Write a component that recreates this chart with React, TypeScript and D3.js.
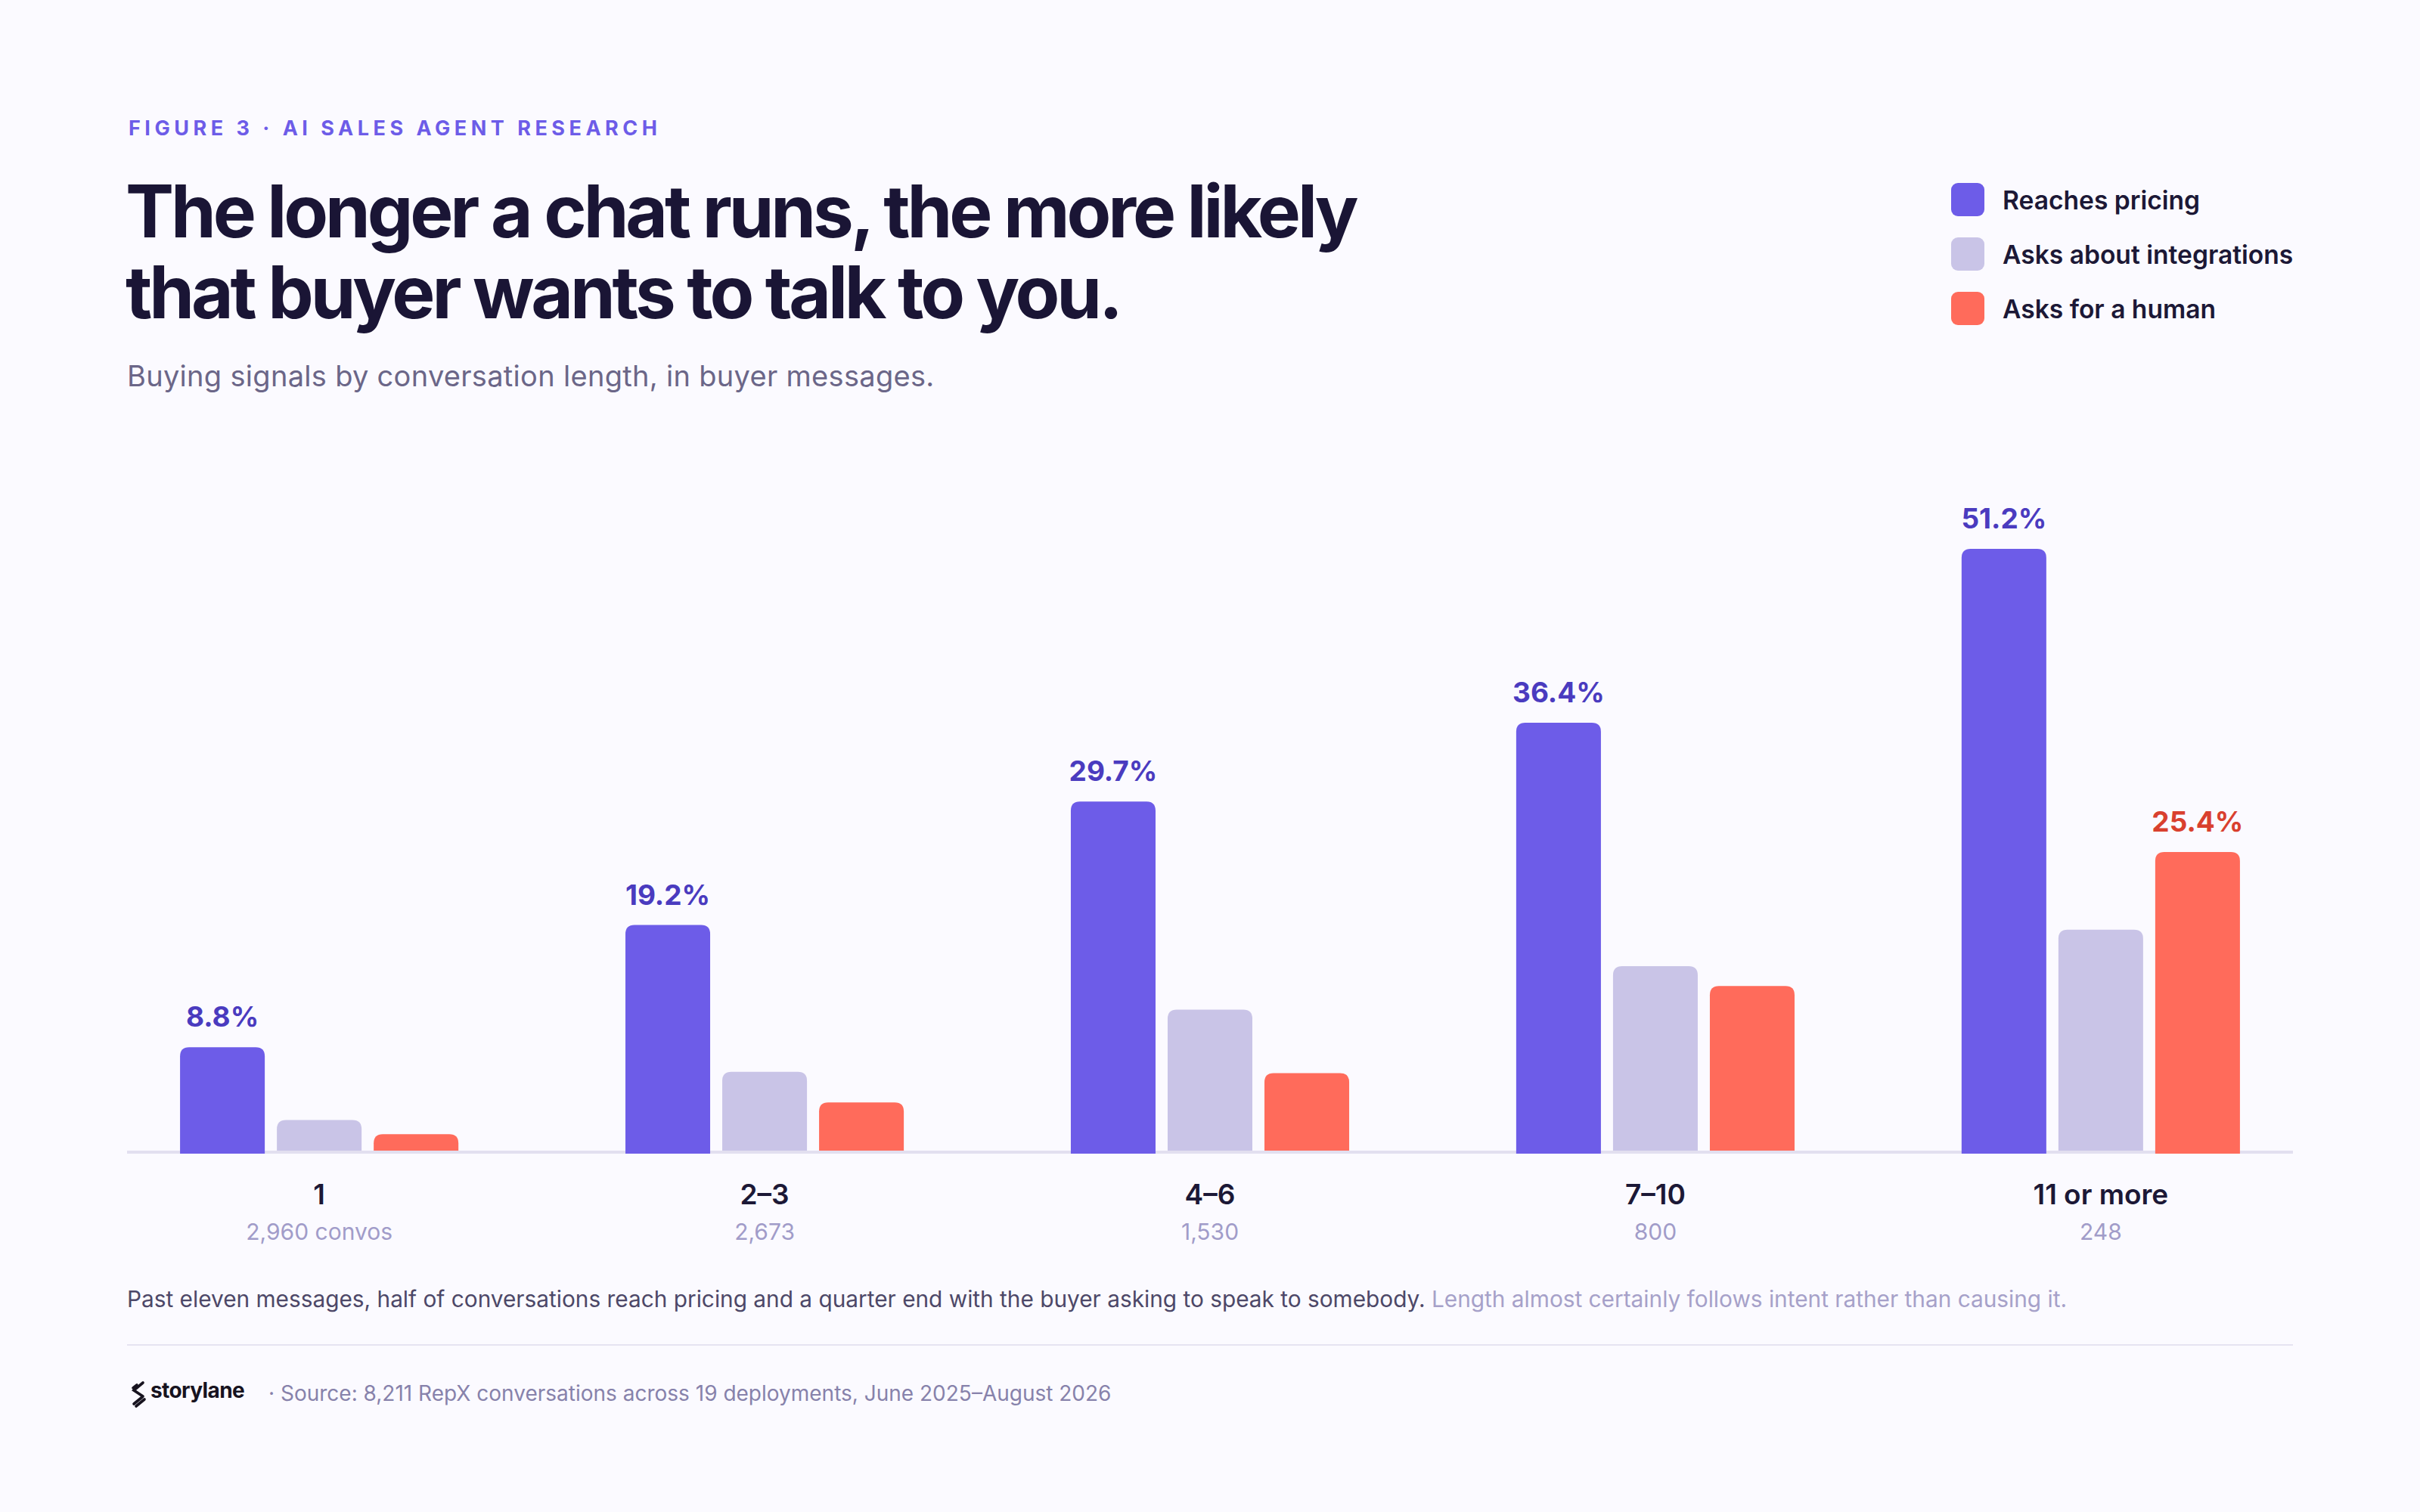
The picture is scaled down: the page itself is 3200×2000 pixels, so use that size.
import * as d3 from "d3";

const categories = ["1", "2–3", "4–6", "7–10", "11 or more"];
const convoCounts = ["2,960 convos", "2,673", "1,530", "800", "248"];
const seriesNames = ["Reaches pricing", "Asks about integrations", "Asks for a human"];
const reachesPricing = [8.8, 19.2, 29.7, 36.4, 51.2];
const asksIntegrations = [2.6, 6.7, 12.0, 15.7, 18.8];
const asksHuman = [1.4, 4.1, 6.6, 14.0, 25.4];
// which bars carry a value label
const labelled = [
  [true, true, true, true, true],
  [false, false, false, false, false],
  [false, false, false, false, true],
];

const colors = ["#6d5ce8", "#c9c4e7", "#ff6b5b"];
const labelColors = ["#4a3bbf", "#8a84b8", "#d9402e"];

const width = 3200;
const height = 2000;
const marginLeft = 168;
const marginRight = 168;
const baseY = 1522;
const font = "Inter, 'Noto Sans', sans-serif";

function topRounded(x: number, y: number, w: number, h: number, r: number) {
  const rr = Math.min(r, h, w / 2);
  return `M${x},${y + h}V${y + rr}Q${x},${y} ${x + rr},${y}H${x + w - rr}Q${x + w},${y} ${x + w},${y + rr}V${y + h}Z`;
}

export default function App() {
  const series = [reachesPricing, asksIntegrations, asksHuman];

  const x0 = d3.scaleBand<string>()
    .domain(categories)
    .range([marginLeft, width - marginRight])
    .paddingInner(0.375)
    .paddingOuter(0.119);

  const x1 = d3.scaleBand<string>()
    .domain(seriesNames)
    .range([0, x0.bandwidth()])
    .paddingInner(0.125);

  const y = d3.scaleLinear([0, 51.2], [baseY, 726]);

  const bars = (front: boolean) =>
    series.flatMap((vals, si) =>
      vals.map((v, ci) => {
        if (labelled[si][ci] !== front) return null;
        const bx = (x0(categories[ci]) ?? 0) + (x1(seriesNames[si]) ?? 0);
        const top = y(v);
        return (
          <path
            key={`${si}-${ci}`}
            d={topRounded(bx, top, x1.bandwidth(), baseY + 4 - top, 12)}
            fill={colors[si]}
          />
        );
      })
    );

  return (
    <svg
      width={width}
      height={height}
      style={{ position: "absolute", left: 0, top: 0, display: "block" }}
      fontFamily={font}
    >
      <rect width={width} height={height} fill="#fbfaff" />

      <text x={170} y={179} fontSize={27} fontWeight={700} letterSpacing={5.5} fill="#6d5ce8">
        FIGURE 3 · AI SALES AGENT RESEARCH
      </text>
      <text fontSize={96} fontWeight={700} letterSpacing={-4.1} fill="#1a1535">
        <tspan x={166} y={314}>The longer a chat runs, the more likely</tspan>
        <tspan x={166} y={421}>that buyer wants to talk to you.</tspan>
      </text>
      <text x={168} y={511} fontSize={38} letterSpacing={0.3} fill="#6b6688">
        Buying signals by conversation length, in buyer messages.
      </text>

      <g>
        {seriesNames.map((name, i) => (
          <g key={name} transform={`translate(2580, ${242 + i * 72})`}>
            <rect width={44} height={44} rx={9} fill={colors[i]} />
            <text x={68} y={35} fontSize={33.6} fontWeight={600} fill="#1c1836">
              {name}
            </text>
          </g>
        ))}
      </g>

      {bars(false)}
      <rect x={marginLeft} y={baseY} width={width - marginLeft - marginRight} height={4} fill="#e2dff0" />
      {bars(true)}

      <g>
        {series.flatMap((vals, si) =>
          vals.map((v, ci) =>
            labelled[si][ci] ? (
              <text
                key={`l${si}-${ci}`}
                x={(x0(categories[ci]) ?? 0) + (x1(seriesNames[si]) ?? 0) + x1.bandwidth() / 2}
                y={y(v) - 27}
                textAnchor="middle"
                fontSize={37}
                fontWeight={700}
                fill={labelColors[si]}
              >
                {v.toFixed(1)}%
              </text>
            ) : null
          )
        )}
      </g>

      <g>
        {categories.map((c, i) => {
          const cx = (x0(c) ?? 0) + x0.bandwidth() / 2;
          return (
            <g key={c}>
              <text x={cx} y={1593} textAnchor="middle" fontSize={37} fontWeight={600} fill="#1c1836">
                {c}
              </text>
              <text x={cx} y={1640} textAnchor="middle" fontSize={30} fill="#a19cc9">
                {convoCounts[i]}
              </text>
            </g>
          );
        })}
      </g>

      <text x={168} y={1729} fontSize={29.8} fill="#4d4868">
        Past eleven messages, half of conversations reach pricing and a quarter end with the buyer asking to speak to somebody.{" "}
        <tspan fill="#a6a1c9">Length almost certainly follows intent rather than causing it.</tspan>
      </text>

      <rect x={marginLeft} y={1778} width={width - marginLeft - marginRight} height={2} fill="#e6e3f1" />

      <g stroke="#17131f" strokeWidth={3.6} strokeLinecap="round" fill="none">
        <path d="M189,1829 L177,1839 L189,1847" />
        <path d="M181,1832 L176,1836" />
        <path d="M188,1848 L177,1857" />
        <path d="M191,1851 L180,1860" />
      </g>
      <text x={199} y={1849} fontSize={28} fontWeight={700} letterSpacing={-0.6} fill="#17131f">
        storylane
      </text>
      <text x={355} y={1853} fontSize={28} fill="#8782ab">
        · Source: 8,211 RepX conversations across 19 deployments, June 2025–August 2026
      </text>
    </svg>
  );
}
